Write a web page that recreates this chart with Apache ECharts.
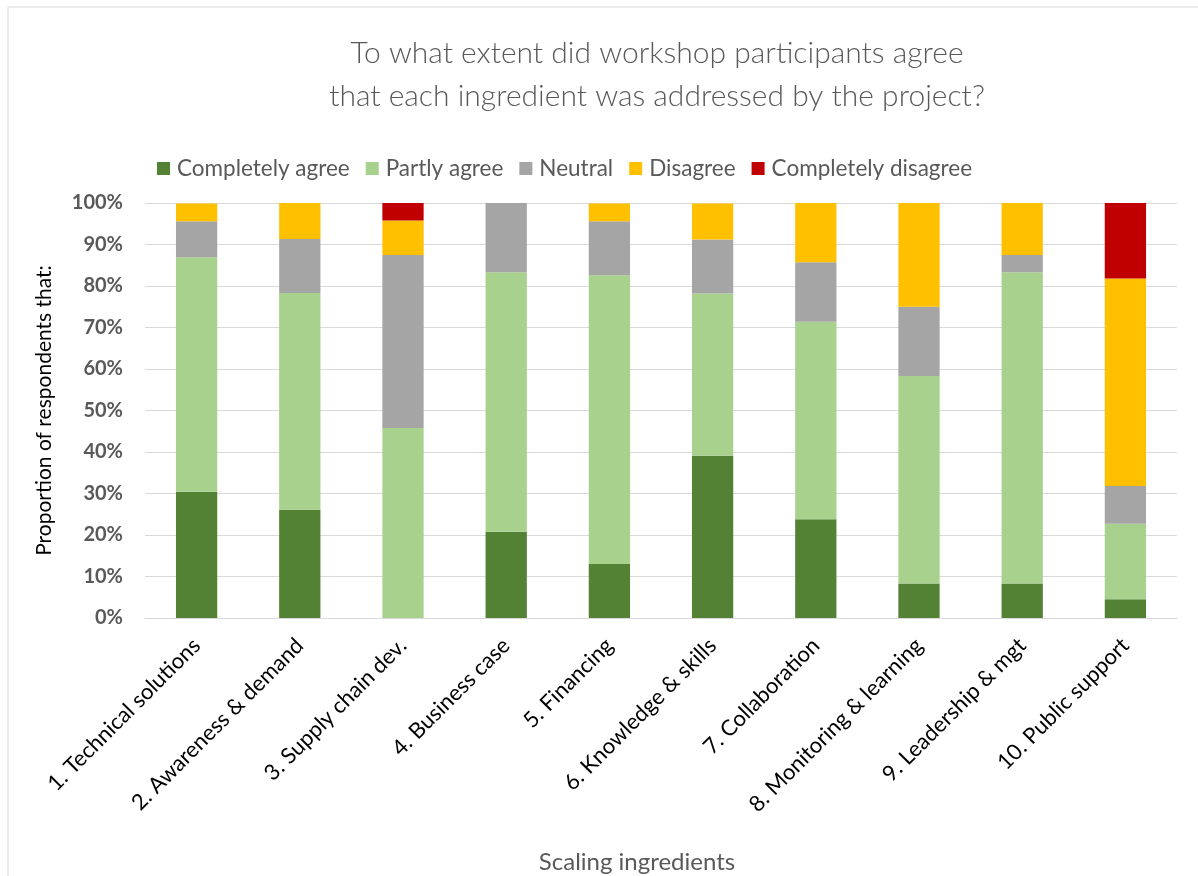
<!DOCTYPE html>
<html>
<head>
<meta charset="utf-8">
<script src="https://cdn.jsdelivr.net/npm/echarts@6/dist/echarts.min.js"></script>
<style>
html,body{margin:0;padding:0;background:#fff;}
#chart{width:1198px;height:876px;}
</style>
</head>
<body>
<div id="chart"></div>
<script>
const categories = ["1. Technical solutions","2. Awareness & demand","3. Supply chain dev.","4. Business case","5. Financing","6. Knowledge & skills","7. Collaboration","8. Monitoring & learning","9. Leadership & mgt","10. Public support"];
const completelyAgree    = [30.4, 26.1, 0,    20.8, 13.0, 39.1, 23.8, 8.3,  8.3,  4.5];
const partlyAgree        = [56.5, 52.2, 45.8, 62.5, 69.6, 39.1, 47.6, 50.0, 75.0, 18.2];
const neutral            = [8.7,  13.0, 41.7, 16.7, 13.0, 13.0, 14.3, 16.7, 4.2,  9.1];
const disagree           = [4.3,  8.7,  8.3,  0,    4.3,  8.7,  14.3, 25.0, 12.5, 50.0];
const completelyDisagree = [0,    0,    4.2,  0,    0,    0,    0,    0,    0,    18.2];
const seriesNames = ["Completely agree","Partly agree","Neutral","Disagree","Completely disagree"];
const seriesColors = ["#548235","#A9D18E","#A5A5A5","#FFC000","#C00000"];
const seriesData = [completelyAgree, partlyAgree, neutral, disagree, completelyDisagree];

const FONT = "Lato, 'Noto Sans', sans-serif";
const chart = echarts.init(document.getElementById('chart'));
chart.setOption({
  animation: false,
  backgroundColor: '#fff',
  textStyle: { fontFamily: FONT },
  graphic: [{
    type: 'rect', shape: { x: 8, y: 7, width: 1200, height: 880 },
    style: { fill: 'none', stroke: '#d9d9d9', lineWidth: 1 }, silent: true
  }],
  title: {
    text: 'To what extent did workshop participants agree\nthat each ingredient was addressed by the project?',
    left: 657, top: 32, textAlign: 'center', padding: 0,
    textStyle: { fontFamily: FONT, fontSize: 30, fontWeight: 300, color: '#595959', lineHeight: 43 }
  },
  legend: {
    left: 157, top: 157, itemWidth: 13, itemHeight: 13, itemGap: 16,
    icon: 'rect', padding: 0,
    textStyle: { fontFamily: FONT, fontSize: 22.5, color: '#595959', padding: [0,0,0,2] },
    data: seriesNames
  },
  grid: { left: 145, right: 21, top: 203, bottom: 258, containLabel: false },
  xAxis: {
    type: 'category', data: categories,
    axisLine: { lineStyle: { color: '#d9d9d9', width: 1 } },
    axisTick: { show: false },
    axisLabel: { rotate: 45, margin: 24, fontFamily: FONT, fontSize: 22, color: '#000', interval: 0 },
    name: 'Scaling ingredients', nameLocation: 'middle', nameGap: 232,
    nameTextStyle: { fontFamily: FONT, fontSize: 24, color: '#595959', padding: [0, 48, 0, 0] }
  },
  yAxis: {
    type: 'value', min: 0, max: 100, interval: 10,
    axisLine: { show: false }, axisTick: { show: false },
    splitLine: { lineStyle: { color: '#d9d9d9', width: 1 } },
    axisLabel: { formatter: '{value}%', fontFamily: FONT, fontSize: 20, fontWeight: 'bold', color: '#595959', margin: 22 },
    name: 'Proportion of respondents that:', nameLocation: 'middle', nameGap: 90,
    nameTextStyle: { fontFamily: FONT, fontSize: 21, color: '#000' }
  },
  series: seriesNames.map((n, i) => ({
    name: n, type: 'bar', stack: 'total', data: seriesData[i],
    barWidth: '40%', itemStyle: { color: seriesColors[i] }
  }))
});
</script>
</body>
</html>
